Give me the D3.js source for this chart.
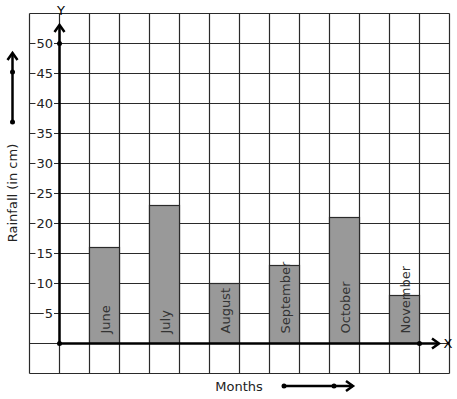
<!DOCTYPE html>
<html>
<head>
<meta charset="utf-8">
<script src="https://cdn.jsdelivr.net/npm/d3@7"></script>
<style>
  body { margin: 0; background: #fff; }
  text { font-family: "DejaVu Sans", sans-serif; }
</style>
</head>
<body>
<div id="chart"></div>
<script>
var width = 457
var height = 399

// data
const months = ["June", "July", "August", "September", "October", "November"];
const rainfall = [16, 23, 10, 13, 21, 8];
const monthCell = [2, 4, 6, 8, 10, 12];
const yTicks = [5, 10, 15, 20, 25, 30, 35, 40, 45, 50];

const svg = d3.select("#chart")
    .append("svg")
    .attr("width", width)
    .attr("height", height);

// grid in cell units (30px per cell)
const x = d3.scaleLinear().domain([0, 14]).range([29.5, 449.5]);
const y = d3.scaleLinear().domain([-5, 55]).range([373.5, 13.5]);

const grid = svg.append("g")
    .attr("stroke", "#2a2a2a")
    .attr("stroke-width", 1.2);
grid.selectAll("line.v")
    .data(d3.range(0, 15))
    .enter().append("line")
    .attr("x1", d => x(d)).attr("x2", d => x(d))
    .attr("y1", y(55)).attr("y2", y(-5));
grid.selectAll("line.h")
    .data(d3.range(-5, 60, 5))
    .enter().append("line")
    .attr("x1", x(0)).attr("x2", x(14))
    .attr("y1", d => y(d)).attr("y2", d => y(d));

// bars
svg.append("g")
    .selectAll("rect")
    .data(rainfall)
    .enter()
    .append("rect")
    .attr("x", (d, i) => x(monthCell[i]))
    .attr("width", x(1) - x(0))
    .attr("y", d => y(d))
    .attr("height", d => y(0) - y(d))
    .attr("fill", "#999999")
    .attr("stroke", "#2a2a2a")
    .attr("stroke-width", 1.2);

// month labels inside bars
svg.append("g")
    .selectAll("text")
    .data(months)
    .enter()
    .append("text")
    .attr("transform", (d, i) => "translate(" + (x(monthCell[i] + 0.5) + 5) + "," + (y(0) - 10) + ") rotate(-90)")
    .attr("font-size", 13)
    .attr("fill", "#333")
    .text(d => d);

// y tick labels with white backing
const tk = svg.append("g")
    .selectAll("g")
    .data(yTicks)
    .enter()
    .append("g")
    .attr("transform", d => "translate(53," + y(d) + ")");
tk.append("text")
    .attr("text-anchor", "end")
    .attr("dy", "0.36em")
    .attr("font-size", 13)
    .attr("fill", "#222")
    .text(d => d);
tk.each(function () {
    const g = d3.select(this);
    const b = g.select("text").node().getBBox();
    g.insert("rect", "text")
        .attr("x", b.x - 1).attr("y", b.y + 2)
        .attr("width", b.width + 2).attr("height", b.height - 4)
        .attr("fill", "#fff");
});

// axes
const ax = svg.append("g").attr("stroke", "#000").attr("stroke-width", 2.5).attr("fill", "none");
ax.append("line").attr("x1", x(1)).attr("x2", x(1)).attr("y1", y(0)).attr("y2", 25);
ax.append("path").attr("d", "M" + (x(1) - 5) + ",32L" + x(1) + ",25L" + (x(1) + 5) + ",32");
ax.append("line").attr("x1", x(1)).attr("x2", 439).attr("y1", y(0)).attr("y2", y(0));
ax.append("path").attr("d", "M432," + (y(0) - 5) + "L439," + y(0) + "L432," + (y(0) + 5));

const dots = [[x(1), y(0)], [x(1), y(50)], [x(13), y(0)]];
svg.append("g").selectAll("circle")
    .data(dots).enter().append("circle")
    .attr("cx", d => d[0]).attr("cy", d => d[1]).attr("r", 2.5).attr("fill", "#000");

svg.append("text").attr("x", 61).attr("y", 15).attr("text-anchor", "middle")
    .attr("font-size", 13).text("Y");
svg.append("text").attr("x", 448).attr("y", y(0)).attr("dy", "0.36em").attr("text-anchor", "middle")
    .attr("font-size", 13).text("X");

// axis titles
svg.append("text")
    .attr("transform", "translate(17,193) rotate(-90)")
    .attr("text-anchor", "middle")
    .attr("font-size", 13)
    .attr("fill", "#222")
    .text("Rainfall (in cm)");
svg.append("text")
    .attr("x", 239).attr("y", 386).attr("dy", "0.36em")
    .attr("text-anchor", "middle")
    .attr("font-size", 13)
    .attr("fill", "#222")
    .text("Months");

// decorative direction arrows
const da = svg.append("g").attr("stroke", "#000").attr("stroke-width", 2.5).attr("fill", "none");
da.append("line").attr("x1", 12.5).attr("x2", 12.5).attr("y1", 122).attr("y2", 53);
da.append("path").attr("d", "M7.5,60L12.5,53L17.5,60");
da.append("line").attr("x1", 284).attr("x2", 353).attr("y1", 386).attr("y2", 386);
da.append("path").attr("d", "M346,381L353,386L346,391");
svg.append("g").selectAll("circle")
    .data([[12.5, 122], [12.5, 72], [284, 386], [334, 386]]).enter().append("circle")
    .attr("cx", d => d[0]).attr("cy", d => d[1]).attr("r", 2.5).attr("fill", "#000");
</script>
</body>
</html>
